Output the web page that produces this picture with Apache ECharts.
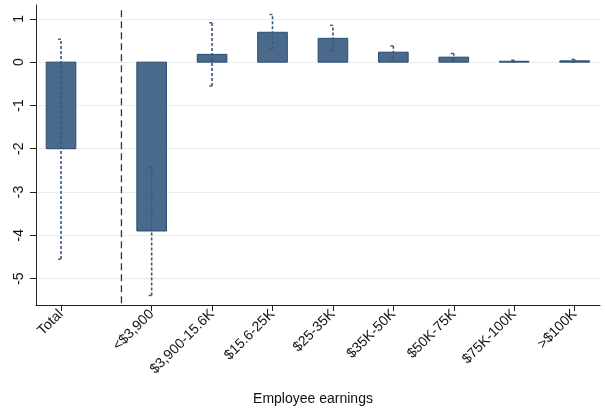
<!DOCTYPE html>
<html>
<head>
<meta charset="utf-8">
<script src="https://cdn.jsdelivr.net/npm/echarts@6/dist/echarts.min.js"></script>
<style>
  html, body { margin: 0; padding: 0; background: #fff; }
  #chart { width: 605px; height: 411px; }
</style>
</head>
<body>
<div id="chart"></div>
<script>
var chart = echarts.init(document.getElementById('chart'));

// categories and where they sit on the x scale (Total is set apart)
var categories = ['Total', '<$3,900', '$3,900-15.6K', '$15.6-25K', '$25-35K', '$35K-50K', '$50K-75K', '$75K-100K', '>$100K'];
var xPos = [0, 1.5, 2.5, 3.5, 4.5, 5.5, 6.5, 7.5, 8.5];
// point estimates and confidence bounds
var estimate = [-2.0, -3.9, 0.18, 0.69, 0.55, 0.23, 0.115, 0.02, 0.03];
var ciLow = [-4.55, -5.39, -0.55, 0.30, 0.27, 0.08, 0.03, 0.0, 0.0];
var ciHigh = [0.53, -2.43, 0.91, 1.10, 0.85, 0.375, 0.20, 0.045, 0.065];
var yTicks = [-5, -4, -3, -2, -1, 0, 1];
var separatorX = 1;

var barData = xPos.map(function (x, i) { return [x, estimate[i]]; });
var ciData = xPos.map(function (x, i) { return [x, ciLow[i], ciHigh[i]]; });

var option = {
  animation: false,
  grid: { left: 36, right: 5, top: 5, bottom: 105 },
  xAxis: {
    type: 'value',
    min: -0.414,
    max: 8.92,
    name: 'Employee earnings',
    nameLocation: 'middle',
    nameGap: 87,
    nameTextStyle: { fontFamily: 'Liberation Sans', fontSize: 14, color: '#111', padding: [0, 10, 0, 0] },
    axisLine: { show: true, onZero: false, lineStyle: { color: '#222', width: 1 } },
    axisTick: { show: true, length: 6, customValues: xPos, lineStyle: { color: '#222' } },
    axisLabel: {
      customValues: xPos,
      rotate: 45,
      margin: 7,
      fontFamily: 'Liberation Sans',
      fontSize: 14,
      color: '#111',
      formatter: function (v) {
        var i = xPos.indexOf(v);
        return i >= 0 ? categories[i] : '';
      }
    },
    splitLine: { show: false }
  },
  yAxis: {
    type: 'value',
    min: -5.61,
    max: 1.32,
    axisLine: { show: true, onZero: false, lineStyle: { color: '#222', width: 1 } },
    axisTick: { show: true, length: 6, customValues: yTicks, lineStyle: { color: '#222' } },
    axisLabel: {
      customValues: yTicks,
      rotate: 90,
      margin: 10,
      fontFamily: 'Liberation Sans',
      fontSize: 14,
      color: '#111'
    },
    splitLine: { show: true, lineStyle: { color: '#ebebeb', width: 1.2 } }
  },
  series: [
    {
      name: 'estimate',
      type: 'custom',
      data: barData,
      renderItem: function (params, api) {
        var x = api.value(0);
        var top = api.coord([x, api.value(1)]);
        var base = api.coord([x, 0]);
        var w = api.size([0.49, 0])[0];
        return {
          type: 'rect',
          shape: {
            x: top[0] - w / 2,
            y: Math.min(top[1], base[1]),
            width: w,
            height: Math.abs(base[1] - top[1])
          },
          style: { fill: '#4a6a8c', stroke: '#2a4a6e', lineWidth: 1 }
        };
      },
      z: 2
    },
    {
      name: 'ci',
      type: 'custom',
      data: ciData,
      renderItem: function (params, api) {
        var x = api.value(0);
        var lo = api.coord([x, api.value(1)]);
        var hi = api.coord([x, api.value(2)]);
        var st = { stroke: '#35597f', lineWidth: 1.6, lineDash: [3, 2] };
        var cap = { stroke: '#35597f', lineWidth: 1.4 };
        return {
          type: 'group',
          children: [
            { type: 'line', shape: { x1: lo[0], y1: lo[1], x2: hi[0], y2: hi[1] }, style: st },
            { type: 'line', shape: { x1: hi[0] - 3, y1: hi[1], x2: hi[0], y2: hi[1] }, style: cap },
            { type: 'line', shape: { x1: lo[0] - 3, y1: lo[1], x2: lo[0], y2: lo[1] }, style: cap }
          ]
        };
      },
      z: 3
    },
    {
      name: 'separator',
      type: 'line',
      data: [[separatorX, 1.2], [separatorX, -5.61]],
      symbol: 'none',
      lineStyle: { color: '#333', width: 1.3, type: [7, 4] },
      z: 1
    }
  ]
};

chart.setOption(option);
</script>
</body>
</html>
